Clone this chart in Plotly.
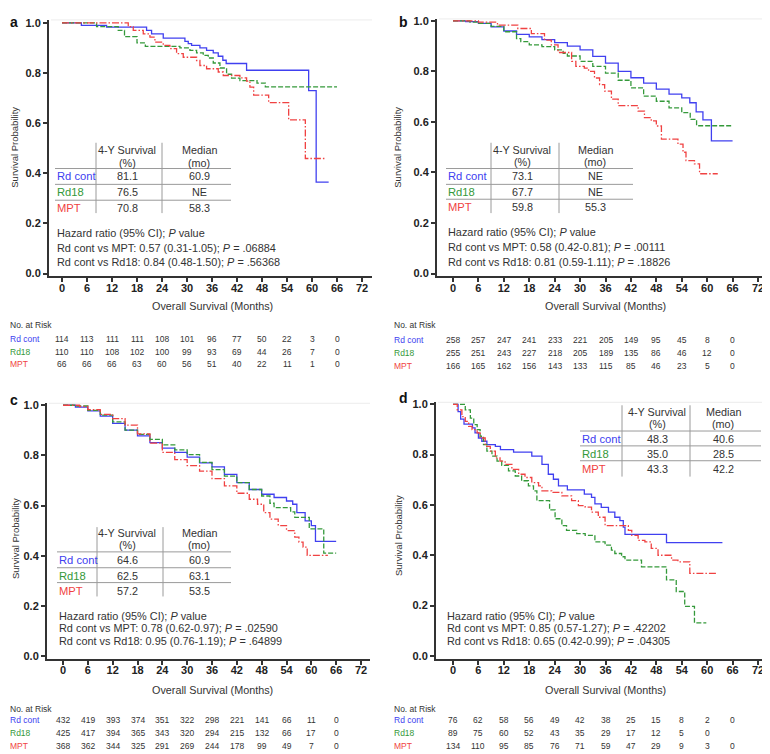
import plotly.graph_objects as go

# page body has an 8px margin: the figure is drawn 8px in from the top-left corner
OFF = 8
W, H = 770 - OFF, 754 - OFF
BLUE = "#4040f0"
GREEN = "#34993a"
RED = "#f04242"
TXT = "#222222"
FONT = "Liberation Sans, Arial, sans-serif"

# ---------------- data ----------------
tick_months = [0, 6, 12, 18, 24, 30, 36, 42, 48, 54, 60, 66, 72]
risk_months = [0, 6, 12, 18, 24, 30, 36, 42, 48, 54, 60, 66]
arms = ["Rd cont", "Rd18", "MPT"]

# panel a
a_rdcont_t = [0, 4.65, 10.7, 20.3, 21.5, 24.3, 29.5, 30.3, 31.1, 33.1, 34.7, 36.3, 37.5, 38.6, 39.4, 44.3, 59.2, 61.0, 64.0]
a_rdcont_s = [1.0, 0.99, 0.983, 0.97, 0.956, 0.939, 0.926, 0.917, 0.91, 0.90, 0.89, 0.88, 0.867, 0.851, 0.838, 0.811, 0.73, 0.365, 0.365]
a_rd18_t = [0, 8.3, 13.5, 15, 18, 20, 28.3, 30.7, 32.3, 33.9, 35.1, 36.3, 37.9, 39.5, 40.7, 42.7, 46.8, 48.8, 66]
a_rd18_s = [1.0, 0.985, 0.97, 0.945, 0.92, 0.906, 0.90, 0.89, 0.88, 0.87, 0.86, 0.84, 0.82, 0.795, 0.78, 0.77, 0.76, 0.745, 0.745]
a_mpt_t = [0, 15.9, 17.1, 19.5, 21.1, 22.3, 24.3, 25.9, 27.5, 29.1, 32.3, 33.1, 34.7, 37.5, 38.7, 42.7, 44.3, 45.1, 46.0, 49.6, 54.4, 58.4, 63.2]
a_mpt_s = [1.0, 0.985, 0.97, 0.956, 0.943, 0.923, 0.91, 0.897, 0.877, 0.863, 0.85, 0.83, 0.817, 0.804, 0.79, 0.781, 0.768, 0.744, 0.712, 0.682, 0.613, 0.459, 0.459]

# panel b
b_rdcont_t = [0, 3, 6, 9, 12, 15, 18, 21, 24, 27, 30, 33, 36, 39, 42, 45, 48, 51, 54, 55.9, 57.4, 59, 61, 66]
b_rdcont_s = [1.0, 0.997, 0.99, 0.976, 0.96, 0.947, 0.937, 0.926, 0.914, 0.90, 0.885, 0.86, 0.833, 0.80, 0.775, 0.754, 0.73, 0.71, 0.695, 0.676, 0.64, 0.608, 0.525, 0.525]
b_rd18_t = [0, 4, 6, 9, 12, 15, 16, 18, 21, 24, 26, 27, 30, 33, 36, 39, 42, 45, 48, 51, 54, 56, 57.5, 66]
b_rd18_s = [1.0, 0.995, 0.99, 0.978, 0.957, 0.93, 0.918, 0.905, 0.898, 0.885, 0.872, 0.861, 0.84, 0.82, 0.793, 0.765, 0.735, 0.702, 0.682, 0.656, 0.637, 0.61, 0.585, 0.585]
b_mpt_t = [0, 6, 10.5, 15.3, 18.5, 21.6, 23.2, 24.8, 28, 29, 31, 32, 33.4, 34.6, 35.8, 37.4, 39, 43.7, 45.2, 46.8, 48, 49.2, 53.1, 54.3, 55, 57, 58.2, 62.5]
b_mpt_s = [1.0, 0.995, 0.983, 0.97, 0.95, 0.924, 0.905, 0.875, 0.84, 0.82, 0.813, 0.80, 0.774, 0.748, 0.722, 0.69, 0.665, 0.643, 0.617, 0.604, 0.584, 0.532, 0.512, 0.48, 0.447, 0.434, 0.395, 0.395]

# panel c
c_rdcont_t = [0, 3, 6, 9, 12, 15, 18, 21, 24, 27, 30, 33, 36, 39, 42, 45, 48, 51, 54, 55.5, 56.5, 58.5, 60, 61, 66]
c_rdcont_s = [1.0, 0.993, 0.978, 0.957, 0.928, 0.901, 0.878, 0.851, 0.829, 0.812, 0.793, 0.77, 0.754, 0.724, 0.691, 0.664, 0.645, 0.632, 0.618, 0.605, 0.572, 0.539, 0.52, 0.457, 0.457]
c_rd18_t = [0, 3, 6, 9, 12, 15, 18, 21, 24, 27, 30, 33, 36, 39, 42, 45, 48, 50, 51, 55, 56, 59.5, 63, 66]
c_rd18_s = [1.0, 0.997, 0.98, 0.961, 0.934, 0.901, 0.884, 0.864, 0.842, 0.822, 0.803, 0.772, 0.743, 0.717, 0.691, 0.664, 0.638, 0.609, 0.592, 0.575, 0.553, 0.507, 0.41, 0.41]
c_mpt_t = [0, 4, 6, 9, 12, 15, 18, 21, 24, 27, 30, 33, 36, 39, 42, 45, 47, 48.5, 50, 52, 54, 56, 57, 58, 59, 64]
c_mpt_s = [1.0, 0.995, 0.983, 0.964, 0.947, 0.921, 0.886, 0.849, 0.812, 0.783, 0.759, 0.737, 0.707, 0.678, 0.649, 0.625, 0.605, 0.572, 0.546, 0.52, 0.50, 0.474, 0.454, 0.434, 0.401, 0.401]

# panel d
d_rdcont_t = [0, 1.2, 1.8, 2.6, 4.6, 5.2, 6.0, 6.8, 8.0, 10.0, 11.2, 14.3, 18.6, 21.0, 22.5, 23.7, 24.9, 27.0, 31.0, 32.7, 33.5, 35.0, 36.7, 38.2, 39.4, 40.2, 40.6, 50.4, 63.6]
d_rdcont_s = [1.0, 0.971, 0.941, 0.921, 0.906, 0.886, 0.866, 0.853, 0.84, 0.833, 0.82, 0.81, 0.794, 0.761, 0.722, 0.702, 0.676, 0.66, 0.643, 0.63, 0.604, 0.59, 0.571, 0.551, 0.538, 0.512, 0.483, 0.45, 0.45]
d_rd18_t = [0, 2.9, 4.1, 4.9, 5.7, 6.4, 7.2, 8.0, 9.2, 10.4, 11.5, 13.1, 14.7, 16.2, 17.8, 19.0, 19.8, 22.8, 24.1, 25.7, 26.8, 29.2, 31.2, 33.5, 35.9, 37.4, 38.2, 39.8, 40.6, 44.5, 50.4, 52.7, 54.7, 57.0, 59.8]
d_rd18_s = [1.0, 0.978, 0.945, 0.919, 0.899, 0.873, 0.84, 0.814, 0.794, 0.774, 0.757, 0.735, 0.715, 0.696, 0.676, 0.656, 0.617, 0.58, 0.545, 0.518, 0.499, 0.486, 0.479, 0.453, 0.44, 0.42, 0.407, 0.394, 0.381, 0.354, 0.302, 0.256, 0.197, 0.131, 0.131]
d_mpt_t = [0, 1.0, 2.1, 2.9, 3.7, 4.5, 5.7, 6.4, 7.6, 8.8, 10.0, 11.1, 12.3, 13.9, 15.5, 17.0, 18.6, 20.2, 21.0, 23.3, 25.7, 28.0, 29.6, 31.2, 32.7, 34.3, 35.9, 41.4, 42.2, 43.7, 45.3, 46.8, 48.4, 51.6, 53.1, 55.9, 62.2]
d_mpt_s = [1.0, 0.978, 0.951, 0.932, 0.912, 0.899, 0.886, 0.866, 0.833, 0.814, 0.787, 0.774, 0.761, 0.741, 0.722, 0.709, 0.689, 0.676, 0.656, 0.65, 0.636, 0.617, 0.597, 0.591, 0.571, 0.551, 0.518, 0.499, 0.479, 0.459, 0.453, 0.427, 0.40, 0.381, 0.374, 0.328, 0.328]

# inset tables: 4-year survival (%) and median (mo)
a_surv4 = ["81.1", "76.5", "70.8"]
a_median = ["60.9", "NE", "58.3"]
b_surv4 = ["73.1", "67.7", "59.8"]
b_median = ["NE", "NE", "55.3"]
c_surv4 = ["64.6", "62.5", "57.2"]
c_median = ["60.9", "63.1", "53.5"]
d_surv4 = ["48.3", "35.0", "43.3"]
d_median = ["40.6", "28.5", "42.2"]

a_hr = ["Rd cont vs MPT: 0.57 (0.31-1.05); <i>P</i> = .06884", "Rd cont vs Rd18: 0.84 (0.48-1.50); <i>P</i> = .56368"]
b_hr = ["Rd cont vs MPT: 0.58 (0.42-0.81); <i>P</i> = .00111", "Rd cont vs Rd18: 0.81 (0.59-1.11); <i>P</i> = .18826"]
c_hr = ["Rd cont vs MPT: 0.78 (0.62-0.97); <i>P</i> = .02590", "Rd cont vs Rd18: 0.95 (0.76-1.19); <i>P</i> = .64899"]
d_hr = ["Rd cont vs MPT: 0.85 (0.57-1.27); <i>P</i> = .42202", "Rd cont vs Rd18: 0.65 (0.42-0.99); <i>P</i> = .04305"]

# numbers at risk
a_risk_rdcont = [114, 113, 111, 111, 108, 101, 96, 77, 50, 22, 3, 0]
a_risk_rd18 = [110, 110, 108, 102, 100, 99, 93, 69, 44, 26, 7, 0]
a_risk_mpt = [66, 66, 66, 63, 60, 56, 51, 40, 22, 11, 1, 0]
b_risk_rdcont = [258, 257, 247, 241, 233, 221, 205, 149, 95, 45, 8, 0]
b_risk_rd18 = [255, 251, 243, 227, 218, 205, 189, 135, 86, 46, 12, 0]
b_risk_mpt = [166, 165, 162, 156, 143, 133, 115, 85, 46, 23, 5, 0]
c_risk_rdcont = [432, 419, 393, 374, 351, 322, 298, 221, 141, 66, 11, 0]
c_risk_rd18 = [425, 417, 394, 365, 343, 320, 294, 215, 132, 66, 17, 0]
c_risk_mpt = [368, 362, 344, 325, 291, 269, 244, 178, 99, 49, 7, 0]
d_risk_rdcont = [76, 62, 58, 56, 49, 42, 38, 25, 15, 8, 2, 0]
d_risk_rd18 = [89, 75, 60, 52, 43, 35, 29, 17, 12, 5, 0]
d_risk_mpt = [134, 110, 95, 85, 76, 71, 59, 47, 29, 9, 3, 0]

# ---------------- layout helpers (window pixel -> paper) ----------------
def px(x):
    return (x - OFF) / W


def py(y):
    return 1 - (y - OFF) / H


panels = [
    dict(letter="a", n="", curves=[(a_rdcont_t, a_rdcont_s), (a_rd18_t, a_rd18_s), (a_mpt_t, a_mpt_s)],
         surv=a_surv4, med=a_median, hr=a_hr, risk=[a_risk_rdcont, a_risk_rd18, a_risk_mpt],
         xl=49, xr=372, x0=62, x72=362, yt=16, yb=275, y1=19, y0=272,
         letter_xy=(8, 8), ytitle_xy=(15, 145), xtitle_y=305,
         tab=dict(lab=55, v1=96, v2=162, c1=127, c2=199, right=231, heads=(147, 160), vtop=140, vbot=211,
                  hl=(166, 182, 198), rows=(174, 190, 206), hrx=55, hry=(231, 246, 260)),
         risk_x=8, risk_y=(324, 338, 351, 363)),
    dict(letter="b", n="2", curves=[(b_rdcont_t, b_rdcont_s), (b_rd18_t, b_rd18_s), (b_mpt_t, b_mpt_s)],
         surv=b_surv4, med=b_median, hr=b_hr, risk=[b_risk_rdcont, b_risk_rd18, b_risk_mpt],
         xl=437, xr=765, x0=453, x72=758, yt=15, yb=275, y1=17, y0=272,
         letter_xy=(397, 8), ytitle_xy=(398, 145), xtitle_y=305,
         tab=dict(lab=446, v1=491, v2=559, c1=522, c2=595, right=633, heads=(147, 159), vtop=140, vbot=211,
                  hl=(166, 182, 197), rows=(174, 190, 205), hrx=446, hry=(230, 245, 260)),
         risk_x=392, risk_y=(324, 339, 352, 365)),
    dict(letter="c", n="3", curves=[(c_rdcont_t, c_rdcont_s), (c_rd18_t, c_rd18_s), (c_mpt_t, c_mpt_s)],
         surv=c_surv4, med=c_median, hr=c_hr, risk=[c_risk_rdcont, c_risk_rd18, c_risk_mpt],
         xl=47, xr=370, x0=63, x72=361, yt=403, yb=661, y1=405, y0=658,
         letter_xy=(8, 390), ytitle_xy=(15, 540), xtitle_y=692,
         tab=dict(lab=57, v1=97, v2=163, c1=127, c2=199, right=231, heads=(534, 546), vtop=528, vbot=598,
                  hl=(553, 569, 584), rows=(561, 577, 592), hrx=57, hry=(618, 630, 643)),
         risk_x=8, risk_y=(712, 723, 736, 749)),
    dict(letter="d", n="4", curves=[(d_rdcont_t, d_rdcont_s), (d_rd18_t, d_rd18_s), (d_mpt_t, d_mpt_s)],
         surv=d_surv4, med=d_median, hr=d_hr, risk=[d_risk_rdcont, d_risk_rd18, d_risk_mpt],
         xl=436, xr=765, x0=453, x72=758, yt=402, yb=661, y1=404, y0=658,
         letter_xy=(397, 388), ytitle_xy=(398, 537), xtitle_y=692,
         tab=dict(lab=580, v1=622, v2=690, c1=657, c2=723, right=761, heads=(412, 424), vtop=405, vbot=477,
                  hl=(431, 446, 461), rows=(439, 454, 469), hrx=445, hry=(618, 630, 643)),
         risk_x=392, risk_y=(712, 723, 736, 749)),
]

colors = [BLUE, GREEN, RED]
dashes = ["solid", "5px,2px", "7px,2px,1.5px,2px"]

fig = go.Figure()
annotations = []
shapes = []
layout = {}


def ann(x, y, text, size=10.5, color=TXT, xanchor="center", yanchor="middle", xref="paper", **kw):
    annotations.append(dict(x=x, y=y, xref=xref, yref="paper", text=text, showarrow=False,
                            xanchor=xanchor, yanchor=yanchor,
                            font=dict(family=FONT, size=size, color=color), **kw))


def hline(x0, x1, y, color="#9a9a9a", width=1):
    shapes.append(dict(type="line", xref="paper", yref="paper", x0=px(x0), x1=px(x1), y0=py(y), y1=py(y),
                       line=dict(color=color, width=width)))


def vline(x, y0, y1, color="#9a9a9a", width=1):
    shapes.append(dict(type="line", xref="paper", yref="paper", x0=px(x), x1=px(x), y0=py(y0), y1=py(y1),
                       line=dict(color=color, width=width)))


for p in panels:
    n = p["n"]
    xs = (p["x72"] - p["x0"]) / 72.0
    ys = (p["y0"] - p["y1"]) / 1.0
    xrange_ = [(p["xl"] - p["x0"]) / xs, (p["xr"] - p["x0"]) / xs]
    yrange_ = [(p["y0"] - p["yb"]) / ys, (p["y0"] - p["yt"]) / ys]
    axfont = dict(family=FONT, size=11, color=TXT, weight="bold")
    layout["xaxis" + n] = dict(domain=[px(p["xl"]), px(p["xr"])], range=xrange_, anchor="y" + n,
                               tickvals=tick_months, ticks="outside", ticklen=4, tickwidth=1.5,
                               tickcolor="#333", showline=True, linewidth=2, linecolor="#333",
                               showgrid=False, zeroline=False, tickfont=axfont, ticklabelstandoff=-4)
    layout["yaxis" + n] = dict(domain=[py(p["yb"]), py(p["yt"])], range=yrange_, anchor="x" + n,
                               tickvals=[0, 0.2, 0.4, 0.6, 0.8, 1.0],
                               ticktext=["0.0", "0.2", "0.4", "0.6", "0.8", "1.0"],
                               ticks="outside", ticklen=4, tickwidth=1.5, tickcolor="#333",
                               showline=True, linewidth=2, linecolor="#333",
                               showgrid=False, zeroline=False, tickfont=axfont)
    # faint top border line
    hline(p["xl"] + 2, p["xr"], p["yt"], color="#ececec", width=1)

    for (t, s), col, dash, name in zip(p["curves"], colors, dashes, arms):
        fig.add_trace(go.Scatter(x=t, y=s, mode="lines", name=name, showlegend=False,
                                 line=dict(shape="hv", color=col, width=1.3, dash=dash),
                                 xaxis="x" + n, yaxis="y" + n))

    # panel letter, axis titles
    lx, ly = p["letter_xy"]
    ann(px(lx), py(ly), "<b>%s</b>" % p["letter"], size=14, color="#111", xanchor="left", yanchor="top")
    tx, ty = p["ytitle_xy"]
    ann(px(tx), py(ty), "Survival Probability", size=9.5, color="#333", textangle=-90)
    ann(px((p["x0"] + p["x72"]) / 2.0), py(p["xtitle_y"]), "Overall Survival (Months)", size=10.8, color="#333")

    # inset table
    tb = p["tab"]
    vline(tb["v1"], tb["vtop"], tb["vbot"])
    vline(tb["v2"], tb["vtop"], tb["vbot"])
    for yl in tb["hl"]:
        hline(tb["lab"], tb["right"], yl)
    ann(px(tb["c1"]), py(tb["heads"][0]), "4-Y Survival", size=10.8, color="#333")
    ann(px(tb["c1"]), py(tb["heads"][1]), "(%)", size=10.8, color="#333")
    ann(px(tb["c2"]), py(tb["heads"][0]), "Median", size=10.8, color="#333")
    ann(px(tb["c2"]), py(tb["heads"][1]), "(mo)", size=10.8, color="#333")
    for arm, col, yrow, sv, md in zip(arms, colors, tb["rows"], p["surv"], p["med"]):
        ann(px(tb["lab"]), py(yrow), arm, size=11.2, color=col, xanchor="left")
        ann(px(tb["c1"]), py(yrow), sv, size=10.8, color="#333")
        ann(px(tb["c2"]), py(yrow), md, size=10.8, color="#333")
    hr_lines = ["Hazard ratio (95% CI); <i>P</i> value"] + p["hr"]
    for txt, yv in zip(hr_lines, tb["hry"]):
        ann(px(tb["hrx"]), py(yv), txt, size=10.9, color="#333", xanchor="left")

    # numbers at risk
    ry = p["risk_y"]
    ann(px(p["risk_x"]), py(ry[0]), "No. at Risk", size=8.5, color="#333", xanchor="left")
    for arm, col, yrow, vals in zip(arms, colors, ry[1:], p["risk"]):
        ann(px(p["risk_x"]), py(yrow), arm, size=8.5, color=col, xanchor="left")
        for m, v in zip(risk_months, vals):
            ann(m, py(yrow), str(v), size=8.5, color="#333", xref="x" + n)

fig.update_layout(width=W, height=H, margin=dict(l=0, r=0, t=0, b=0),
                  paper_bgcolor="white", plot_bgcolor="white",
                  annotations=annotations, shapes=shapes, **layout)

fig.write_html("out.html")
